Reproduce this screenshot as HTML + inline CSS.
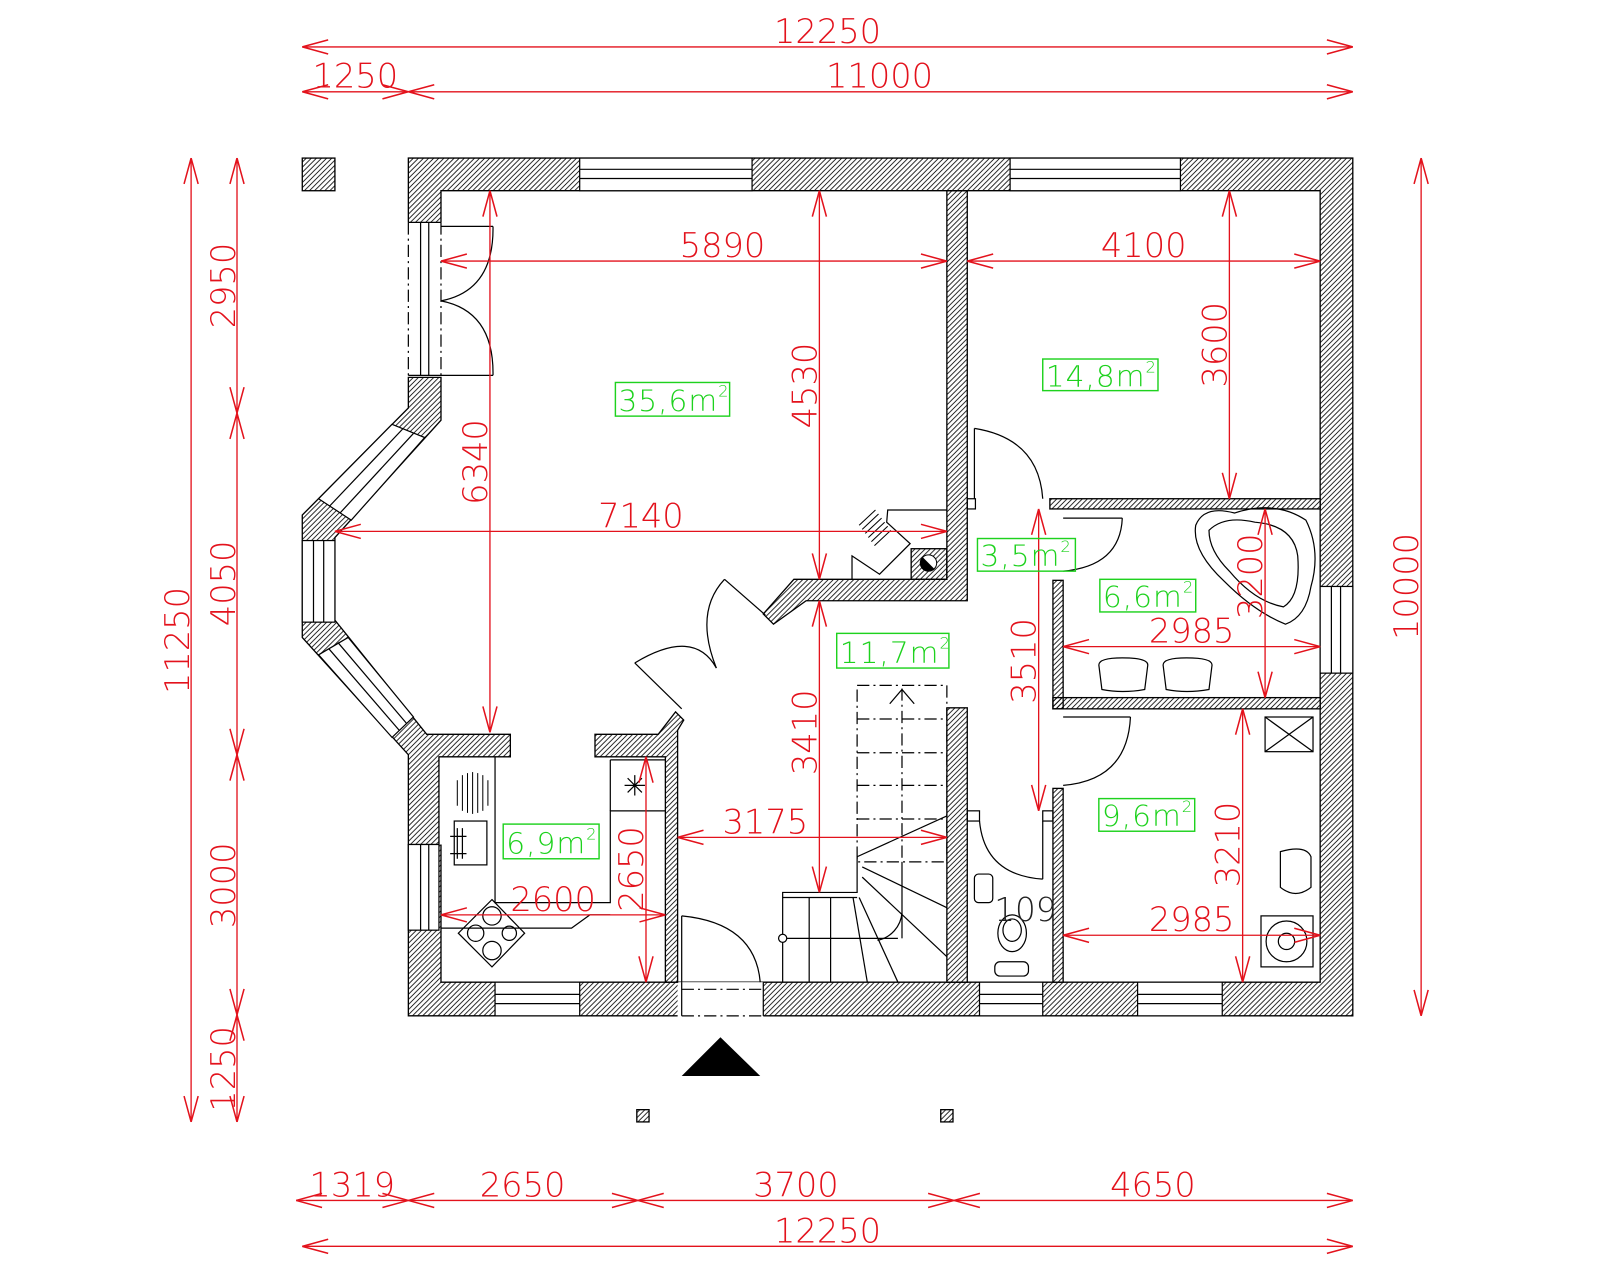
<!DOCTYPE html>
<html><head><meta charset="utf-8"><style>
html,body{margin:0;padding:0;background:#fff;}
svg{display:block;}
.w{fill:url(#h);stroke:#000;stroke-width:1.3;}
.k{fill:none;stroke:#000;stroke-width:1.2;}
.wf{fill:#fff;stroke:#000;stroke-width:1.2;}
.dd{fill:none;stroke:#000;stroke-width:1.2;stroke-dasharray:12 4 2 4;}
.d{stroke:#e3121c;stroke-width:1.3;fill:none;marker-start:url(#a);marker-end:url(#a);}
.t{fill:#e3121c;font-family:"DejaVu Sans","Liberation Sans",sans-serif;font-weight:200;font-size:33px;text-anchor:middle;}
.g{fill:#1ed21e;font-family:"DejaVu Sans","Liberation Sans",sans-serif;font-weight:200;font-size:29px;letter-spacing:1px;}
.gb{fill:none;stroke:#1ed21e;stroke-width:1.4;}
</style></head><body>
<svg width="1600" height="1280" viewBox="0 0 1568 1255" xmlns="http://www.w3.org/2000/svg">
<defs>
<pattern id="h" patternUnits="userSpaceOnUse" width="5" height="5">
<path d="M-1,6 L6,-1 M-1,1 L1,-1 M4,6 L6,4" stroke="#000" stroke-width="0.8"/>
</pattern>
<marker id="a" markerUnits="userSpaceOnUse" orient="auto-start-reverse" refX="0" refY="0" markerWidth="30" markerHeight="20" viewBox="-24 -8 26 16" overflow="visible">
<path d="M0,0 L-22,-6 M0,0 L-22,6" stroke="#e3121c" stroke-width="1.3" fill="none"/>
</marker>
</defs>

<path class="w" fill-rule="evenodd" d="M400,155 H1326 V996 H400 Z M432,187 H1294 V963 H432 Z"/>
<rect x="296" y="155" width="32" height="32" class="w"/>
<rect x="399" y="218" width="34" height="610" fill="#fff"/>
<line x1="400" y1="218" x2="400" y2="368" class="dd"/>
<line x1="432" y1="218" x2="432" y2="368" class="dd"/>
<line x1="412" y1="218" x2="412" y2="368" class="k"/>
<line x1="420" y1="218" x2="420" y2="368" class="k"/>
<line x1="400" y1="218" x2="432" y2="218" class="k"/>
<line x1="400" y1="368" x2="432" y2="368" class="k"/>
<line x1="432" y1="222" x2="483" y2="222" class="k"/>
<line x1="432" y1="368" x2="483" y2="368" class="k"/>
<path class="k" d="M483,222 Q484,285 432,295 Q484,305 483,368"/>
<polygon class="w" points="400,370 432,370 432,412 328,527 328,608 418,720 500,720 500,742 430,742 430,828 400,828 400,740 296,625 296,505 400,400"/>
<polygon class="wf" points="384,416 312,489 344,510 416,429"/>
<line x1="395" y1="420" x2="323" y2="496" class="k"/><line x1="405" y1="425" x2="333" y2="503" class="k"/>
<rect x="296" y="530" width="32" height="80" class="wf"/>
<line x1="307" y1="530" x2="307" y2="610" class="k"/><line x1="317" y1="530" x2="317" y2="610" class="k"/>
<polygon class="wf" points="312,642 384,723 405,703 341,625"/>
<line x1="322" y1="636" x2="391" y2="716" class="k"/><line x1="331" y1="630" x2="398" y2="709" class="k"/>
<rect x="400" y="828" width="30" height="84" class="wf"/>
<line x1="412" y1="828" x2="412" y2="912" class="k"/><line x1="420" y1="828" x2="420" y2="912" class="k"/>
<rect x="568" y="155" width="169" height="32" class="wf"/>
<line x1="568" y1="166" x2="737" y2="166" class="k"/><line x1="568" y1="175" x2="737" y2="175" class="k"/>
<rect x="990" y="155" width="167" height="32" class="wf"/>
<line x1="990" y1="166" x2="1157" y2="166" class="k"/><line x1="990" y1="175" x2="1157" y2="175" class="k"/>
<rect x="485" y="963" width="83" height="33" class="wf"/>
<line x1="485" y1="975" x2="568" y2="975" class="k"/><line x1="485" y1="984" x2="568" y2="984" class="k"/>
<rect x="664" y="963" width="84" height="34" fill="#fff"/>
<line x1="668" y1="963" x2="668" y2="996" class="k"/><line x1="748" y1="963" x2="748" y2="996" class="k"/>
<line x1="668" y1="996" x2="748" y2="996" class="dd"/><line x1="668" y1="970" x2="748" y2="970" class="dd"/>
<rect x="960" y="963" width="62" height="33" class="wf"/>
<line x1="960" y1="975" x2="1022" y2="975" class="k"/><line x1="960" y1="984" x2="1022" y2="984" class="k"/>
<rect x="1115" y="963" width="83" height="33" class="wf"/>
<line x1="1115" y1="975" x2="1198" y2="975" class="k"/><line x1="1115" y1="984" x2="1198" y2="984" class="k"/>
<rect x="1294" y="575" width="32" height="85" class="wf"/>
<line x1="1305" y1="575" x2="1305" y2="660" class="k"/><line x1="1314" y1="575" x2="1314" y2="660" class="k"/>

<polygon class="w" points="928,187 948,187 948,589 790,589 758,612 748,602 778,568 928,568"/>
<rect x="893" y="538" width="35" height="30" class="w"/>
<circle cx="910" cy="552" r="8" fill="#fff" stroke="#000"/>
<path d="M904,546 A8,8 0 0 0 916,558 Z" fill="#000"/>
<polyline class="k" points="835,568 835,545 862,563 892,533 869,512 870,500 928,500"/>
<g stroke="#000" stroke-width="1"><line x1="842" y1="515" x2="858" y2="500"/><line x1="845" y1="519" x2="861" y2="504"/><line x1="848" y1="523" x2="864" y2="508"/><line x1="851" y1="527" x2="867" y2="512"/><line x1="854" y1="531" x2="870" y2="516"/><line x1="857" y1="535" x2="873" y2="520"/></g>
<rect x="1029" y="489" width="265" height="10" class="w"/>
<rect x="1032" y="569" width="10" height="126" class="w"/>
<rect x="1032" y="684" width="262" height="11" class="w"/>
<rect x="1032" y="773" width="10" height="190" class="w"/>
<rect x="928" y="694" width="20" height="269" class="w"/>
<rect x="948" y="795" width="12" height="10" class="k"/>
<rect x="1022" y="795" width="10" height="10" class="k"/>
<rect x="948" y="489" width="8" height="10" class="k"/>
<polygon class="w" points="583,720 645,720 662,698 670,706 664,716 664,963 652,963 652,742 583,742"/>
<line x1="955" y1="420" x2="955" y2="489" class="k"/>
<path class="k" d="M955,420 Q1018,430 1022,489"/>
<line x1="1042" y1="508" x2="1100" y2="508" class="k"/>
<path class="k" d="M1100,508 Q1098,555 1042,560"/>
<line x1="1042" y1="703" x2="1108" y2="703" class="k"/>
<path class="k" d="M1108,703 Q1105,765 1042,770"/>
<line x1="1022" y1="805" x2="1022" y2="862" class="k"/>
<path class="k" d="M960,805 Q965,858 1022,862"/>
<line x1="668" y1="898" x2="668" y2="963" class="k"/>
<path class="k" d="M668,898 Q740,905 745,963"/>
<line x1="668" y1="695" x2="622" y2="650" class="k"/>
<path class="k" d="M622,650 Q680,615 702,655"/>
<line x1="750" y1="603" x2="710" y2="568" class="k"/>
<path class="k" d="M710,568 Q680,600 702,655"/>
<rect x="840" y="672" width="88" height="173" class="dd"/>
<g class="dd"><line x1="840" y1="705" x2="928" y2="705"/><line x1="840" y1="738" x2="928" y2="738"/><line x1="840" y1="770" x2="928" y2="770"/><line x1="840" y1="803" x2="928" y2="803"/><line x1="884" y1="675" x2="884" y2="845"/></g>
<path class="k" d="M872,690 L884,676 L896,690"/>
<polyline class="k" points="767,963 767,875 840,875 840,840 928,800"/>
<line x1="767" y1="880" x2="840" y2="880" class="k"/>
<g class="k"><line x1="793" y1="880" x2="793" y2="963"/><line x1="814" y1="880" x2="814" y2="963"/><line x1="767" y1="920" x2="880" y2="920"/>
<line x1="836" y1="880" x2="850" y2="963"/><line x1="842" y1="880" x2="880" y2="963"/><line x1="845" y1="860" x2="928" y2="938"/><line x1="845" y1="850" x2="928" y2="890"/><line x1="884" y1="845" x2="884" y2="920"/></g>
<path class="k" d="M884,895 A30,30 0 0 1 860,922"/>
<circle cx="767" cy="920" r="4" class="wf"/>
<polyline class="k" points="485,742 485,885 598,885 598,795 652,795"/>
<polyline class="k" points="432,910 560,910 578,897 598,897"/>
<line x1="598" y1="745" x2="598" y2="795" class="k"/>
<line x1="598" y1="745" x2="652" y2="745" class="k"/>
<g stroke="#000" stroke-width="1"><line x1="448" y1="765" x2="448" y2="790"/><line x1="453" y1="760" x2="453" y2="795"/><line x1="458" y1="758" x2="458" y2="797"/><line x1="463" y1="757" x2="463" y2="798"/><line x1="468" y1="758" x2="468" y2="797"/><line x1="473" y1="760" x2="473" y2="795"/><line x1="478" y1="765" x2="478" y2="790"/></g>
<rect x="445" y="805" width="32" height="43" class="k"/>
<path class="k" d="M441,820 H457 M441,837 H457 M448,812 V842 M453,812 V842"/>
<path class="k" d="M612,770 H632 M622,760 V780 M615,763 L629,777 M629,763 L615,777"/>
<polygon class="k" points="482,882 514,915 482,948 449,915"/>
<circle cx="482" cy="898" r="9" class="k"/><circle cx="482" cy="932" r="9" class="k"/><circle cx="466" cy="915" r="8" class="k"/><circle cx="499" cy="915" r="7" class="k"/>
<path class="k" d="M1172,515 Q1180,495 1210,503 Q1250,490 1280,510 Q1295,540 1285,575 Q1280,605 1260,612 Q1230,600 1200,570 Q1168,540 1172,515 Z"/>
<path class="k" d="M1185,520 Q1200,505 1230,512 Q1268,515 1272,545 Q1275,585 1258,595 Q1230,590 1205,560 Q1185,540 1185,520 Z"/>
<path class="k" d="M1077,652 Q1077,645 1100,645 Q1125,645 1125,652 L1122,676 Q1100,680 1080,676 Z"/>
<path class="k" d="M1140,652 Q1140,645 1163,645 Q1188,645 1188,652 L1185,676 Q1163,680 1143,676 Z"/>
<rect x="1240" y="703" width="47" height="34" class="k"/>
<path class="k" d="M1240,703 L1287,737 M1287,703 L1240,737"/>
<path class="k" d="M1255,835 Q1280,828 1285,840 L1285,870 Q1270,882 1255,870 Z"/>
<rect x="1236" y="898" width="51" height="50" class="k"/>
<circle cx="1261" cy="923" r="20" class="k"/><circle cx="1261" cy="923" r="8" class="k"/>
<rect x="955" y="857" width="18" height="28" rx="4" class="k"/>
<ellipse cx="992" cy="915" rx="14" ry="18" class="k"/><ellipse cx="992" cy="912" rx="9" ry="11" class="k"/>
<rect x="975" y="943" width="33" height="14" rx="5" class="k"/>
<text x="1005" y="903" font-family="DejaVu Sans,Liberation Sans,sans-serif" font-weight="200" font-size="32" fill="#222" text-anchor="middle">109</text>
<polygon points="668,1055 706,1017 745,1055" fill="#000"/>
<rect x="624" y="1088" width="12" height="12" class="w"/>
<rect x="922" y="1088" width="12" height="12" class="w"/>

<line class="d" x1="296" y1="46" x2="1326" y2="46"/><text class="t" x="811" y="42">12250</text>
<line class="d" x1="296" y1="90" x2="400" y2="90"/><text class="t" x="348" y="86">1250</text>
<line class="d" x1="400" y1="90" x2="1326" y2="90"/><text class="t" x="862" y="86">11000</text>
<line class="d" x1="290" y1="1177" x2="400" y2="1177"/><text class="t" x="345" y="1173">1319</text>
<line class="d" x1="400" y1="1177" x2="625" y2="1177"/><text class="t" x="512" y="1173">2650</text>
<line class="d" x1="625" y1="1177" x2="935" y2="1177"/><text class="t" x="780" y="1173">3700</text>
<line class="d" x1="935" y1="1177" x2="1326" y2="1177"/><text class="t" x="1130" y="1173">4650</text>
<line class="d" x1="296" y1="1222" x2="1326" y2="1222"/><text class="t" x="811" y="1218">12250</text>
<line class="d" x1="187" y1="155" x2="187" y2="1100"/><text class="t" transform="translate(185,628) rotate(-90)">11250</text>
<line class="d" x1="232" y1="155" x2="232" y2="405"/><text class="t" transform="translate(230,280) rotate(-90)">2950</text>
<line class="d" x1="232" y1="405" x2="232" y2="740"/><text class="t" transform="translate(230,572) rotate(-90)">4050</text>
<line class="d" x1="232" y1="740" x2="232" y2="995"/><text class="t" transform="translate(230,868) rotate(-90)">3000</text>
<line class="d" x1="232" y1="995" x2="232" y2="1100"/><text class="t" transform="translate(230,1048) rotate(-90)">1250</text>
<line class="d" x1="1393" y1="155" x2="1393" y2="996"/><text class="t" transform="translate(1390,575) rotate(-90)">10000</text>
<line class="d" x1="432" y1="256" x2="928" y2="256"/><text class="t" x="708" y="252">5890</text>
<line class="d" x1="948" y1="256" x2="1294" y2="256"/><text class="t" x="1121" y="252">4100</text>
<line class="d" x1="803" y1="187" x2="803" y2="568"/><text class="t" transform="translate(800,378) rotate(-90)">4530</text>
<line class="d" x1="480" y1="187" x2="480" y2="718"/><text class="t" transform="translate(477,453) rotate(-90)">6340</text>
<line class="d" x1="328" y1="521" x2="928" y2="521"/><text class="t" x="628" y="517">7140</text>
<line class="d" x1="1205" y1="187" x2="1205" y2="489"/><text class="t" transform="translate(1202,338) rotate(-90)">3600</text>
<line class="d" x1="1018" y1="499" x2="1018" y2="795"/><text class="t" transform="translate(1015,648) rotate(-90)">3510</text>
<line class="d" x1="1042" y1="634" x2="1294" y2="634"/><text class="t" x="1168" y="630">2985</text>
<line class="d" x1="1240" y1="499" x2="1240" y2="684"/><text class="t" transform="translate(1237,565) rotate(-90)">3200</text>
<line class="d" x1="803" y1="589" x2="803" y2="875"/><text class="t" transform="translate(800,718) rotate(-90)">3410</text>
<line class="d" x1="664" y1="821" x2="928" y2="821"/><text class="t" x="750" y="817">3175</text>
<line class="d" x1="633" y1="742" x2="633" y2="963"/><text class="t" transform="translate(630,852) rotate(-90)">2650</text>
<line class="d" x1="432" y1="897" x2="652" y2="897"/><text class="t" x="542" y="893">2600</text>
<line class="d" x1="1218" y1="695" x2="1218" y2="963"/><text class="t" transform="translate(1215,828) rotate(-90)">3210</text>
<line class="d" x1="1042" y1="917" x2="1294" y2="917"/><text class="t" x="1168" y="913">2985</text>

<rect class="gb" x="603" y="375" width="112" height="33"/><text class="g" x="606" y="403">35,6m<tspan font-size="16" dy="-14">2</tspan></text>
<rect class="gb" x="1022" y="352" width="113" height="31"/><text class="g" x="1025" y="379">14,8m<tspan font-size="16" dy="-14">2</tspan></text>
<rect class="gb" x="958" y="528" width="96" height="32"/><text class="g" x="961" y="555">3,5m<tspan font-size="16" dy="-14">2</tspan></text>
<rect class="gb" x="1078" y="568" width="94" height="32"/><text class="g" x="1081" y="595">6,6m<tspan font-size="16" dy="-14">2</tspan></text>
<rect class="gb" x="820" y="621" width="110" height="34"/><text class="g" x="823" y="650">11,7m<tspan font-size="16" dy="-14">2</tspan></text>
<rect class="gb" x="493" y="808" width="94" height="34"/><text class="g" x="496" y="837">6,9m<tspan font-size="16" dy="-14">2</tspan></text>
<rect class="gb" x="1077" y="783" width="94" height="32"/><text class="g" x="1080" y="810">9,6m<tspan font-size="16" dy="-14">2</tspan></text>
</svg>
</body></html>
